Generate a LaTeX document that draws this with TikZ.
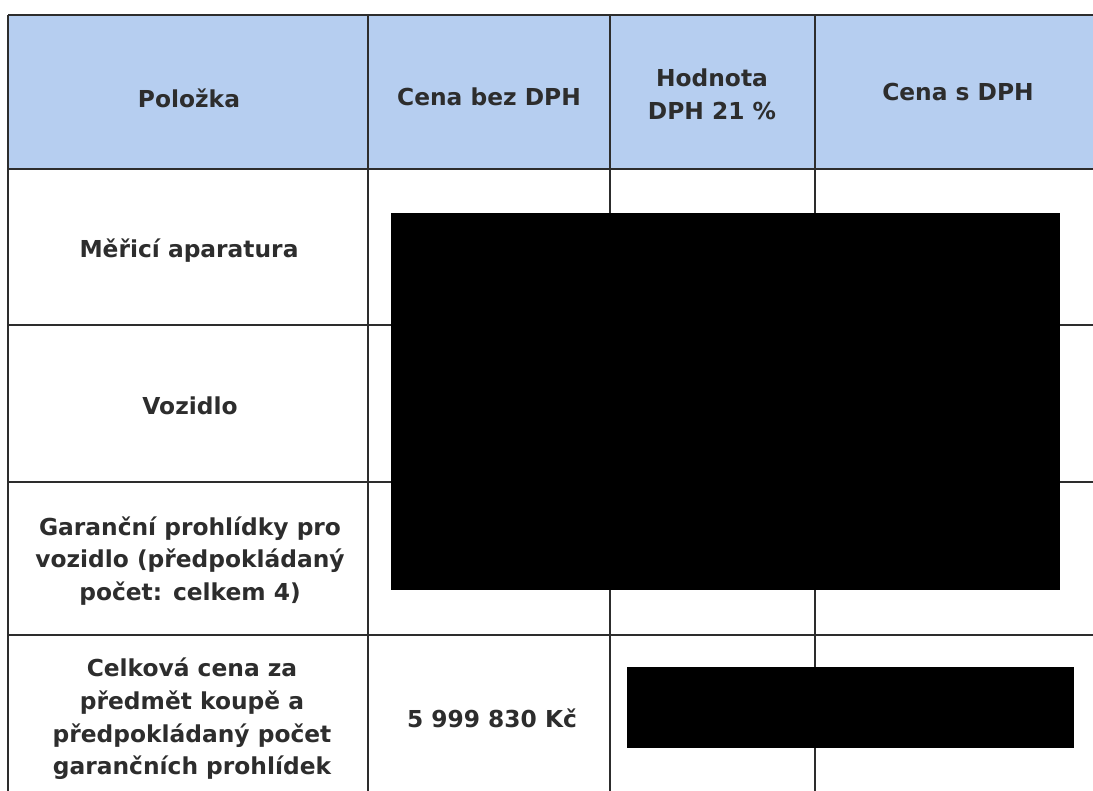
\documentclass[tikz,border=0pt]{standalone}
\usepackage{fontspec}
\setmainfont{DejaVu Sans}
\usepackage{tikz}

\definecolor{headblue}{RGB}{182,206,240}
\definecolor{inkgray}{RGB}{45,45,45}

\begin{document}
\begin{tikzpicture}[x=0.75pt,y=-0.75pt,
	cell/.style={font=\bfseries\fontsize{17.5}{24.5}\selectfont, text=inkgray, align=center, inner sep=0pt},
	rule/.style={line width=1pt, inkgray},
	redact/.style={fill=black}]
	\useasboundingbox (0,0) rectangle (1093,791);
	\fill[headblue] (8,15) rectangle (1093,169);

	% grid
	\foreach \x in {8,368,610,815}
		\draw[rule] (\x,15) -- (\x,791);
	\foreach \y in {15,169,325,482,635}
		\draw[rule] (8,\y) -- (1093,\y);

	% header
	\node[cell] (polozka) at (189,98) {Položka};
	\node[cell] (bezdph) at (489,97) {Cena bez DPH};
	\node[cell] (hodnota) at (712,94) {Hodnota\\DPH 21 \%};
	\node[cell] (sdph) at (958,92) {Cena s DPH};

	% rows
	\node[cell] (aparatura) at (189,251) {Měřicí aparatura};
	\node[cell] (vozidlo) at (190,406) {Vozidlo};
	\node[cell] (garance) at (190,561) {Garanční prohlídky pro\\vozidlo (předpokládaný\\počet: celkem 4)};
	\node[cell] (celkem) at (192,719) {Celková cena za\\předmět koupě a\\předpokládaný počet\\garančních prohlídek};
	\node[cell] (suma) at (492,718) {5 999 830 Kč};

	% redactions
	\fill[redact] (391,213) rectangle (1060,590);
	\fill[redact] (627,667) rectangle (1074,748);
\end{tikzpicture}
\end{document}
